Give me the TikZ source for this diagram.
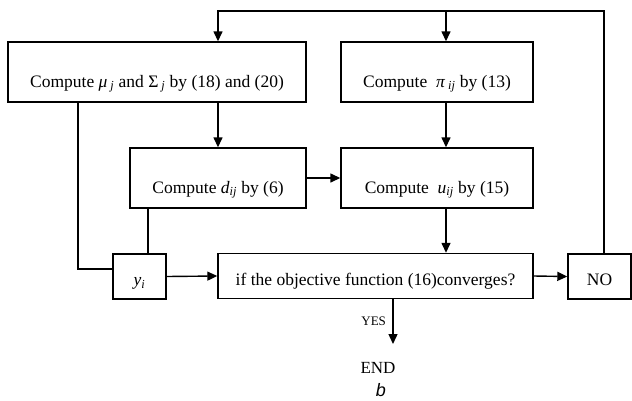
\documentclass[tikz,border=0pt]{standalone}
\usepackage{fontspec}
\setmainfont{Liberation Serif}
\newfontfamily\figfont{Liberation Sans}
\usetikzlibrary{arrows.meta}

\begin{document}
\begin{tikzpicture}[x=1pt, y=-1pt, line width=1.4pt, >={Triangle[length=10pt, width=9pt]},
    calcbox/.style={draw, rectangle, inner sep=0pt, font=\fontsize{17.5}{20}\selectfont},
    topbox/.style={calcbox, minimum height=60pt, text height=32pt, text depth=2pt},
    lowbox/.style={calcbox, minimum height=45pt, text height=20pt, text depth=2pt}]
    \useasboundingbox (0,0) rectangle (632,400);

    % Boxes of the loop
    \node[topbox, minimum width=298pt] (musigma) at (157,72)
        {Compute \textit{μ}\,\textsubscript{\textit{j}} and Σ\,\textsubscript{\textit{j}} by (18) and (20)};
    \node[topbox, minimum width=192pt] (pi) at (437,72)
        {Compute\ \ \textit{π}\,\textsubscript{\textit{ij}} by (13)};
    \node[topbox, minimum width=176pt] (dist) at (218,178)
        {Compute \textit{d}\textsubscript{\textit{ij}} by (6)};
    \node[topbox, minimum width=192pt] (memb) at (437,178)
        {Compute\ \ \textit{u}\textsubscript{\textit{ij}} by (15)};

    % Bottom row
    \node[lowbox, minimum width=53pt] (y) at (139.5,276.5) {\textit{y}\textsubscript{\textit{i}}};
    \node[lowbox, minimum width=315pt] (conv) at (375.5,276)
        {if the objective function (16)converges?};
    \node[lowbox, minimum width=63pt] (no) at (599.5,276.5) {NO};

    % End and caption
    \node[font=\fontsize{17}{20}\selectfont] (end) at (378,368) {END};
    \node[inner sep=0pt, font=\figfont\itshape\fontsize{18}{20}\selectfont] (fig) at (381,390) {b};

    % Loop corners
    \coordinate (loopl) at (218,11);
    \coordinate (loopm) at (446,11);
    \coordinate (loopr) at (604,11);
    \coordinate (ybend) at (78,269);
    \coordinate (yesend) at (393,344);

    % Arrows
    \draw[->] (loopr |- no.north) -- (loopr) -- (loopl) -- (loopl |- musigma.north);
    \draw[->] (loopm) -- (loopm |- pi.north);
    \draw[->] (musigma.south -| dist.north) -- (dist.north);
    \draw[->] (loopm |- pi.south) -- (loopm |- memb.north);
    \draw[->] (dist.east) -- (memb.west);
    \draw[->] (loopm |- memb.south) -- (loopm |- conv.north);
    \draw (ybend |- musigma.south) -- (ybend) -- (ybend -| y.west);
    \draw (148,0 |- dist.south) -- (148,0 |- y.north);
    \draw[->] (y.east) -- (conv.west);
    \draw[->] (conv.east) -- (no.west);
    \draw[->] (yesend |- conv.south) -- (yesend)
        node[midway, left=3pt, font=\fontsize{13}{15}\selectfont] {YES};

\end{tikzpicture}
\end{document}
